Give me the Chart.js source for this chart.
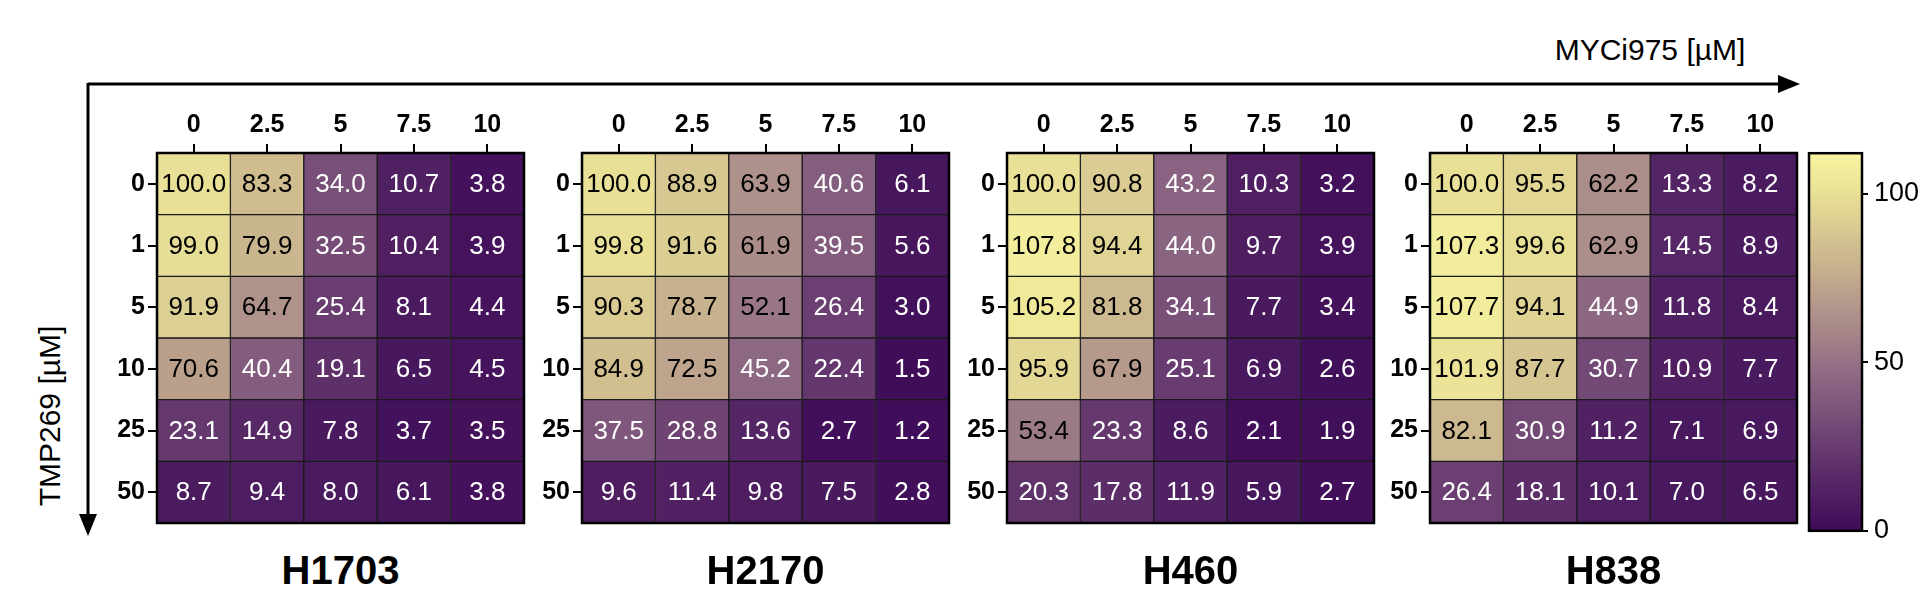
<!DOCTYPE html>
<html><head><meta charset="utf-8">
<script src="https://cdn.jsdelivr.net/npm/chart.js@4.4.1/dist/chart.umd.min.js"></script>
<style>
body{margin:0;background:#fff;width:1920px;height:596px;overflow:hidden;font-family:"Liberation Sans",Arial,sans-serif}
.p{position:absolute}
.t{position:absolute;font-weight:bold;font-size:40px;text-align:center;width:367px;top:548px}
</style></head><body>
<svg class="p" style="left:0;top:0" width="1920" height="596">
<line x1="88" y1="84" x2="1780" y2="84" stroke="#000" stroke-width="3"/>
<polygon points="1800,84 1778,75 1778,93" fill="#000"/>
<line x1="88" y1="83" x2="88" y2="515" stroke="#000" stroke-width="3"/>
<polygon points="88,536 79,514 97,514" fill="#000"/>
<text x="1650" y="60" font-size="30" text-anchor="middle" font-family="Liberation Sans">MYCi975 [µM]</text>
<text transform="translate(60,416) rotate(-90)" font-size="30" text-anchor="middle" font-family="Liberation Sans">TMP269 [µM]</text>
</svg>
<script>
const colLabels=["0","2.5","5","7.5","10"];
const rowLabels=["0","1","5","10","25","50"];
const panelNames=["H1703","H2170","H460","H838"];
const H1703=[[100.0,83.3,34.0,10.7,3.8],[99.0,79.9,32.5,10.4,3.9],[91.9,64.7,25.4,8.1,4.4],[70.6,40.4,19.1,6.5,4.5],[23.1,14.9,7.8,3.7,3.5],[8.7,9.4,8.0,6.1,3.8]];
const H2170=[[100.0,88.9,63.9,40.6,6.1],[99.8,91.6,61.9,39.5,5.6],[90.3,78.7,52.1,26.4,3.0],[84.9,72.5,45.2,22.4,1.5],[37.5,28.8,13.6,2.7,1.2],[9.6,11.4,9.8,7.5,2.8]];
const H460=[[100.0,90.8,43.2,10.3,3.2],[107.8,94.4,44.0,9.7,3.9],[105.2,81.8,34.1,7.7,3.4],[95.9,67.9,25.1,6.9,2.6],[53.4,23.3,8.6,2.1,1.9],[20.3,17.8,11.9,5.9,2.7]];
const H838=[[100.0,95.5,62.2,13.3,8.2],[107.3,99.6,62.9,14.5,8.9],[107.7,94.1,44.9,11.8,8.4],[101.9,87.7,30.7,10.9,7.7],[82.1,30.9,11.2,7.1,6.9],[26.4,18.1,10.1,7.0,6.5]];
const panelData=[H1703,H2170,H460,H838];
const cbTicks=[0,50,100];
const cbMax=112;
const stops=[[0,[61,11,88]],[25,[104,60,112]],[50,[149,114,135]],[75,[194,170,140]],[100,[232,224,150]],[112,[248,245,160]]];
function cmap(v){
  for(let i=1;i<stops.length;i++){
    if(v<=stops[i][0]){const a=stops[i-1],b=stops[i],t=(v-a[0])/(b[0]-a[0]);
      const c=a[1].map((x,k)=>Math.round(x+(b[1][k]-x)*t));return `rgb(${c})`;}
  }
  return `rgb(${stops[stops.length-1][1]})`;
}
const lefts=[157,582,1007,1430];
const gridTop=153,gridBottom=539,gw=367,yaxW=66,xaxH=58;
const frame={id:'frame',afterDatasetsDraw(ch){
  const c=ch.ctx,a=ch.chartArea;
  if(ch.config.options.cellText){
    ch.data.datasets.forEach((ds,di)=>{
      ch.getDatasetMeta(di).data.forEach((el,j)=>{
        const v=ds.vals[j];
        c.save();c.fillStyle=v>50?'#000':'#fff';c.font='26px "Liberation Sans",Arial';
        c.textAlign='center';c.textBaseline='middle';c.fillText(v.toFixed(1),el.x,(el.y+el.base)/2+1);c.restore();
      });
    });
  }
  c.save();c.strokeStyle='#000';c.lineWidth=2.5;c.strokeRect(a.left,a.top,a.right-a.left,a.bottom-a.top);c.restore();
}};
panelData.forEach((data,pi)=>{
  const cv=document.createElement('canvas');
  const L=lefts[pi]-yaxW, T=gridTop-xaxH;
  cv.className='p';cv.style.left=L+'px';cv.style.top=T+'px';
  cv.style.width=(gw+yaxW+2)+'px';cv.style.height=(gridBottom-T+2)+'px';
  document.body.appendChild(cv);
  const datasets=data.map((row,ri)=>({
    data:row.map(()=>[ri-0.5,ri+0.5]),vals:row,
    backgroundColor:row.map(cmap),borderColor:'#1a1a1a',borderWidth:1,borderSkipped:false,
    barPercentage:1,categoryPercentage:1,grouped:false}));
  new Chart(cv,{type:'bar',data:{labels:colLabels,datasets},plugins:[frame],
    options:{cellText:true,responsive:false,animation:false,devicePixelRatio:1,
      layout:{padding:{right:2,bottom:2}},
      plugins:{legend:{display:false},tooltip:{enabled:false}},
      scales:{
        x:{position:'top',offset:true,grid:{display:true,drawOnChartArea:false,color:'#000',lineWidth:2,tickLength:9,offset:false},
           border:{display:false},ticks:{color:'#000',font:{size:25,weight:'bold',family:'Liberation Sans'},padding:4},
           afterFit(s){s.height=xaxH;}},
        y:{type:'linear',reverse:true,min:-0.5,max:5.5,afterBuildTicks(s){s.ticks=rowLabels.map((_,i)=>({value:i}));},
           grid:{drawOnChartArea:false,color:'#000',lineWidth:2,tickLength:9},border:{display:false},
           ticks:{color:'#000',font:{size:25,weight:'bold',family:'Liberation Sans'},padding:3,callback:(v)=>rowLabels[v]},
           afterFit(s){s.width=yaxW;}}
      }}});
  const t=document.createElement('div');t.className='t';t.style.left=lefts[pi]+'px';t.textContent=panelNames[pi];
  document.body.appendChild(t);
});
// colorbar
const cb=document.createElement('canvas');cb.className='p';cb.style.left='1807px';cb.style.top=(gridTop-22)+'px';
cb.style.width='113px';cb.style.height=(gridBottom-gridTop+36)+'px';document.body.appendChild(cb);
const grad={id:'grad',beforeDatasetsDraw(ch){
  const c=ch.ctx,a=ch.chartArea,y=ch.scales.y;
  const g=c.createLinearGradient(0,y.getPixelForValue(0),0,y.getPixelForValue(cbMax));
  for(let v=0;v<=cbMax;v+=4)g.addColorStop(v/cbMax,cmap(v));
  c.fillStyle=g;c.fillRect(a.left,a.top,a.right-a.left,a.bottom-a.top);
}};
new Chart(cb,{type:'bar',data:{labels:[''],datasets:[{data:[null]}]},plugins:[grad,frame],
  options:{responsive:false,animation:false,devicePixelRatio:1,layout:{padding:{top:8,bottom:8,left:2}},
    plugins:{legend:{display:false},tooltip:{enabled:false}},
    scales:{x:{display:false},
      y:{position:'right',min:0,max:cbMax,afterBuildTicks(s){s.ticks=cbTicks.map(v=>({value:v}));},
        grid:{drawOnChartArea:false,color:'#000',lineWidth:2,tickLength:6},border:{display:false},
        ticks:{color:'#000',font:{size:27,family:'Liberation Sans'},padding:6},afterFit(s){s.width=58;}}}}});
</script></body></html>
